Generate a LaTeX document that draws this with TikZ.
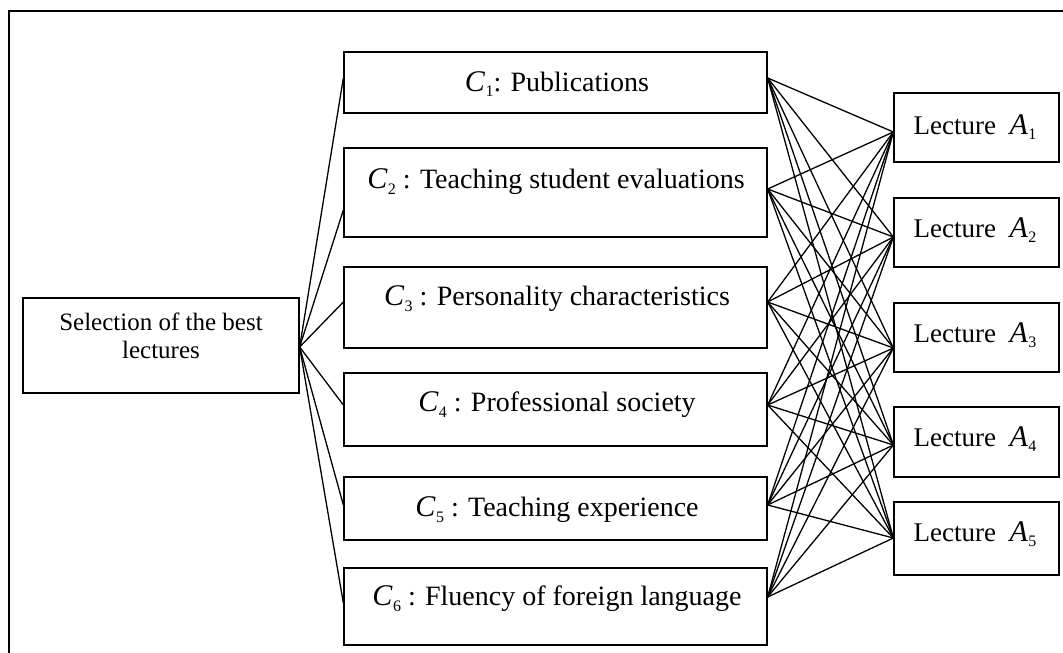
\documentclass[tikz,border=0pt]{standalone}
\usepackage{fontspec}
\setmainfont{Liberation Serif}
\usetikzlibrary{calc}
\newcommand\sbx[2]{{\fontsize{30}{30}\selectfont\textit{#1}}\kern0.3pt\raisebox{-0.45ex}{\fontsize{16}{16}\selectfont #2}}
\begin{document}
\begin{tikzpicture}[x=1pt,y=-1pt,
  font=\fontsize{25}{28}\selectfont,
  box/.style={draw, line width=1.3pt, inner sep=0pt},
  txt/.style={inner sep=0pt, align=center},
  ctxt/.style={txt, font=\fontsize{28}{30}\selectfont},
  atxt/.style={txt, font=\fontsize{27}{30}\selectfont},
  link/.style={line width=1.3pt}]
\clip (0,0) rectangle (1063,653);
\fill[white] (0,0) rectangle (1063,653);
% outer frame
\draw[line width=1.3pt] (9,665) -- (9,11) -- (1075,11);
% root
\node[box, minimum width=276pt, minimum height=95pt] (S) at (161,345.5) {};
\node[txt] (St) at (161,336) {Selection of the best\\lectures};
% criteria
\node[box, minimum width=423pt, minimum height=61pt] (C1) at (555.5,82.5) {};
\node[box, minimum width=423pt, minimum height=89pt] (C2) at (555.5,192.5) {};
\node[box, minimum width=423pt, minimum height=81pt] (C3) at (555.5,307.5) {};
\node[box, minimum width=423pt, minimum height=73pt] (C4) at (555.5,409.5) {};
\node[box, minimum width=423pt, minimum height=63pt] (C5) at (555.5,508.5) {};
\node[box, minimum width=423pt, minimum height=77pt] (C6) at (555.5,606.5) {};
\node[ctxt] (C1t) at (557,84) {\sbx{C}{1}: Publications};
\node[ctxt] (C2t) at (556,182) {\sbx{C}{2} : Teaching student evaluations};
\node[ctxt] (C3t) at (557,299) {\sbx{C}{3} : Personality characteristics};
\node[ctxt] (C4t) at (557,405) {\sbx{C}{4} : Professional society};
\node[ctxt] (C5t) at (557,510) {\sbx{C}{5} : Teaching experience};
\node[ctxt] (C6t) at (557,599) {\sbx{C}{6} : Fluency of foreign language};
% alternatives
\node[box, minimum width=165pt, minimum height=69pt] (A1) at (976.5,127.5) {};
\node[box, minimum width=165pt, minimum height=69pt] (A2) at (976.5,232.5) {};
\node[box, minimum width=165pt, minimum height=69pt] (A3) at (976.5,337.5) {};
\node[box, minimum width=165pt, minimum height=70pt] (A4) at (976.5,442) {};
\node[box, minimum width=165pt, minimum height=73pt] (A5) at (976.5,538.5) {};
\foreach \i/\y in {1/127,2/230,3/335,4/439,5/534}{
  \node[atxt] (A\i t) at (975,\y) {Lecture\ \ \sbx{A}{\i}};
}
% anchor points
\coordinate (Sr) at ($(S.east)+(0,1.5)$);
\coordinate (C1l) at ($(C1.west)+(0,-4.5)$);
\coordinate (C2l) at ($(C2.west)+(0,17.5)$);
\coordinate (C3l) at ($(C3.west)+(0,-5.5)$);
\coordinate (C4l) at ($(C4.west)+(0,-4.5)$);
\coordinate (C5l) at ($(C5.west)+(0,-3.5)$);
\coordinate (C6l) at ($(C6.west)+(0,-3.5)$);
\coordinate (C1r) at ($(C1.east)+(0,-4.5)$);
\coordinate (C2r) at ($(C2.east)+(0,-3.5)$);
\coordinate (C3r) at ($(C3.east)+(0,-5.5)$);
\coordinate (C4r) at ($(C4.east)+(0,-4.5)$);
\coordinate (C5r) at ($(C5.east)+(0,-3.5)$);
\coordinate (C6r) at ($(C6.east)+(0,-9.5)$);
\coordinate (A1l) at ($(A1.west)+(0,4.5)$);
\coordinate (A2l) at ($(A2.west)+(0,4.5)$);
\coordinate (A3l) at ($(A3.west)+(0,10.5)$);
\coordinate (A4l) at ($(A4.west)+(0,3)$);
\coordinate (A5l) at ($(A5.west)+(0,-0.5)$);
% connectors
\foreach \c in {1,...,6}{
  \draw[link] (Sr) -- (C\c l);
  \foreach \a in {1,...,5}{
    \draw[link] (C\c r) -- (A\a l);
  }
}
\end{tikzpicture}
\end{document}
